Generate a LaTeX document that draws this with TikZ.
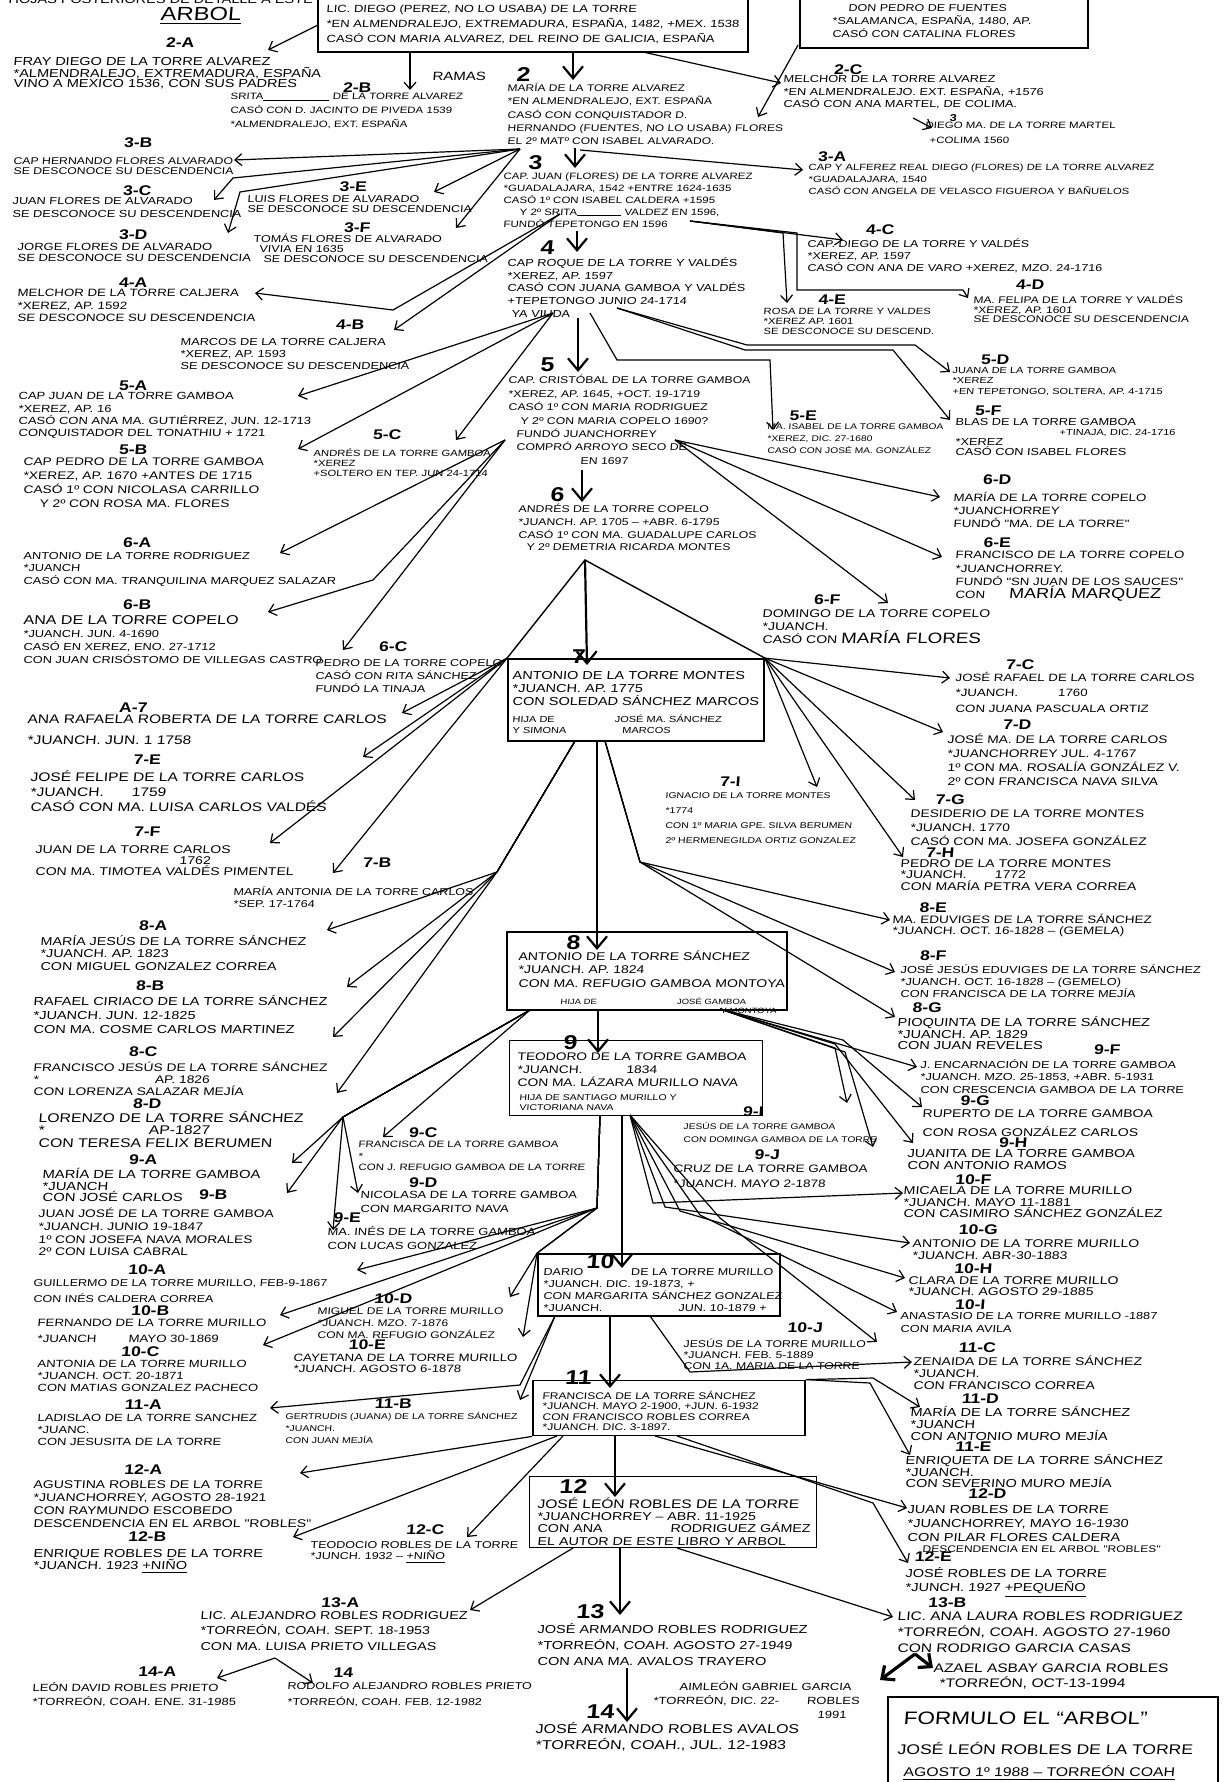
\documentclass[tikz,border=0pt]{standalone}
\usepackage{fontspec}
\usetikzlibrary{arrows.meta}
\newfontfamily\hand[FakeStretch=1.25,FakeSlant=0.08]{Liberation Sans}
\newcommand{\hf}[2]{\hand\fontsize{#1}{#2}\selectfont}
\newcommand{\blank}[1]{\rule[-0.4pt]{#1}{0.5pt}}

\begin{document}
\begin{tikzpicture}[x=0.5pt,y=-0.5pt,
  person/.style={anchor=north west,inner sep=0pt,align=left,font=\hf{5.2}{6.2}},
  gen/.style={inner sep=0pt,font=\hand\bfseries\fontsize{7}{7}\selectfont},
  genmain/.style={inner sep=0pt,font=\hand\bfseries\fontsize{10}{10}\selectfont},
  famsbox/.style={draw,line width=0.9pt,inner sep=0pt},
  link/.style={line width=0.6pt,-{Straight Barb[length=3.5pt,width=6pt]}},
  tent/.style={line width=0.7pt},
  down/.style={line width=1.1pt,-{Straight Barb[length=6pt,width=10pt,line width=1.1pt]}},
  fat/.style={line width=1.6pt,-{Straight Barb[length=5pt,width=9pt,line width=1.6pt]}}]
\useasboundingbox (0,0) rectangle (1223,1782);
\fill[white] (0,0) rectangle (1223,1782);

% heading
\node[person,font=\hf{5.8}{6}] (title) at (8,-5) {HOJAS POSTERIORES DE DETALLE A ESTE};
\node[person,font=\hf{9.5}{10}] (arbol) at (160,7) {\underline{ARBOL}};
\node[person,font=\hf{6}{6}] (ramas) at (432,72) {RAMAS};

% the two first families
\node[famsbox,minimum width=215pt,minimum height=27pt] (boxD) at (533,25) {};
\node[person,font=\hf{5.2}{7.4}] (nD) at (326,5) {LIC. DIEGO (PEREZ, NO LO USABA) DE LA TORRE\\{*}EN ALMENDRALEJO, EXTREMADURA, ESPAÑA, 1482, +MEX. 1538\\CASÓ CON MARIA ALVAREZ, DEL REINO DE GALICIA, ESPAÑA};
\node[famsbox,minimum width=144pt,minimum height=25pt] (boxP) at (944,23) {};
\node[person,font=\hf{5}{6.5}] (nP) at (832,4) {\hspace*{8pt}DON PEDRO DE FUENTES\\{*}SALAMANCA, ESPAÑA, 1480, AP.\\CASÓ CON CATALINA FLORES};

% generation numbers
\foreach \n/\t/\x/\y in {g2/2/523/75, g3/3/535/163, g4/4/547/248, g5/5/547/365, g6/6/557/495,
  g7/7/578/657, g8/8/573/943, g9/9/570/1043, g10/10/600/1262, g11/11/578/1378, g12/12/573/1486,
  g13/13/590/1612, g14/14/600/1712}
  \node[genmain] (\n) at (\x,\y) {\t};
\foreach \n/\t/\x/\y in {g2A/2-A/180/43, g2B/2-B/357/88, g2C/2-C/848/70, g3A/3-A/832/157,
  g3B/3-B/138/143, g3C/3-C/137/191, g3D/3-D/133/235, g3E/3-E/353/187, g3F/3-F/357/228,
  g4A/4-A/133/283, g4B/4-B/350/325, g4C/4-C/880/230, g4D/4-D/1030/285, g4E/4-E/832/300,
  g5A/5-A/133/386, g5B/5-B/133/450, g5C/5-C/387/435, g5D/5-D/995/360, g5E/5-E/803/416,
  g5F/5-F/988/411, g6A/6-A/137/543, g6B/6-B/137/605, g6C/6-C/393/647, g6D/6-D/997/480,
  g6E/6-E/997/543, g6F/6-F/827/600, g7A/A-7/133/708, g7B/7-B/377/863, g7C/7-C/1020/665,
  g7D/7-D/1017/725, g7E/7-E/147/760, g7F/7-F/147/832, g7G/7-G/950/800, g7H/7-H/940/853,
  g7I/7-I/730/782, g8A/8-A/153/926, g8B/8-B/150/986, g8C/8-C/143/1052, g8D/8-D/147/1104,
  g8E/8-E/933/908, g8F/8-F/933/956, g8G/8-G/927/1008, g9A/9-A/143/1160, g9B/9-B/213/1195,
  g9C/9-C/423/1133, g9D/9-D/423/1183, g9E/9-E/347/1218, g9F/9-F/1107/1050, g9G/9-G/975/1101,
  g9H/9-H/1013/1143, g9I/9-I/753/1112, g9J/9-J/767/1155, g10A/10-A/147/1270, g10B/10-B/150/1311,
  g10C/10-C/140/1352, g10D/10-D/393/1299, g10E/10-E/367/1345, g10F/10-F/973/1180,
  g10G/10-G/978/1230, g10H/10-H/973/1269, g10I/10-I/970/1305, g10J/10-J/805/1328,
  g11A/11-A/143/1405, g11B/11-B/393/1404, g11C/11-C/977/1348, g11D/11-D/980/1399,
  g11E/11-E/973/1447, g12A/12-A/143/1470, g12B/12-B/147/1537, g12C/12-C/425/1530,
  g12D/12-D/987/1494, g12E/12-E/933/1557, g13A/13-A/340/1603, g13B/13-B/947/1603,
  g14A/14-A/157/1672, g14B/14/343/1673}
  \node[gen] (\n) at (\x,\y) {\t};
\node[gen,font=\hand\bfseries\fontsize{5}{5}\selectfont] (g3s) at (953,118) {3};

% generation 2 and 3
\node[person,font=\hf{5.8}{4.8}] (n2A) at (13,57) {FRAY DIEGO DE LA TORRE ALVAREZ\\{*}ALMENDRALEJO, EXTREMADURA, ESPAÑA\\VINO A MEXICO 1536, CON SUS PADRES};
\node[person,font=\hf{4.6}{6.8}] (n2B) at (230,93) {SRITA\blank{33pt} DE LA TORRE ALVAREZ\\CASÓ CON D. JACINTO DE PIVEDA 1539\\{*}ALMENDRALEJO, EXT. ESPAÑA};
\node[person,font=\hf{4.8}{6.6}] (n2) at (507,83) {MARÍA DE LA TORRE ALVAREZ\\{*}EN ALMENDRALEJO, EXT. ESPAÑA\\CASÓ CON CONQUISTADOR D.\\HERNANDO (FUENTES, NO LO USABA) FLORES\\EL 2º MATº CON ISABEL ALVARADO.};
\node[person,font=\hf{5.1}{6.3}] (n2C) at (783,75) {MELCHOR DE LA TORRE ALVAREZ\\{*}EN ALMENDRALEJO. EXT. ESPAÑA, +1576\\CASÓ CON ANA MARTEL, DE COLIMA.};
\node[person,font=\hf{4.6}{7.4}] (nDM) at (925,122) {DIEGO MA. DE LA TORRE MARTEL\\\hspace*{2pt}+COLIMA 1560};
\node[person,font=\hf{4.5}{5.8}] (n3A) at (808,164) {CAP Y ALFEREZ REAL DIEGO (FLORES) DE LA TORRE ALVAREZ\\{*}GUADALAJARA, 1540\\CASÓ CON ANGELA DE VELASCO FIGUEROA Y BAÑUELOS};
\node[person,font=\hf{4.9}{5.2}] (n3B) at (13,157) {CAP HERNANDO FLORES ALVARADO\\SE DESCONOCE SU DESCENDENCIA};
\node[person,font=\hf{5.1}{6.4}] (n3C) at (12,197) {JUAN FLORES DE ALVARADO\\SE DESCONOCE SU DESCENDENCIA};
\node[person,font=\hf{5.2}{5.4}] (n3D) at (17,243) {JORGE FLORES DE ALVARADO\\SE DESCONOCE SU DESCENDENCIA};
\node[person,font=\hf{5}{5.2}] (n3E) at (247,195) {LUIS FLORES DE ALVARADO\\SE DESCONOCE SU DESCENDENCIA};
\node[person,font=\hf{5}{5.2}] (n3F) at (253,233) {TOMÁS FLORES DE ALVARADO\\\hspace*{3pt}VIVIA EN 1635\\\hspace*{5pt}SE DESCONOCE SU DESCENDENCIA};
\node[person,font=\hf{4.6}{6}] (n3) at (503,172) {CAP. JUAN (FLORES) DE LA TORRE ALVAREZ\\{*}GUADALAJARA, 1542 +ENTRE 1624-1635\\CASÓ 1º CON ISABEL CALDERA +1595\\\hspace*{8pt}Y 2º SRITA\blank{22pt} VALDEZ EN 1596,\\FUNDÓ TEPETONGO EN 1596};

% generation 4
\node[person,font=\hf{5.3}{6.2}] (n4A) at (17,289) {MELCHOR DE LA TORRE CALJERA\\{*}XEREZ, AP. 1592\\SE DESCONOCE SU DESCENDENCIA};
\node[person,font=\hf{5.1}{6}] (n4B) at (180,338) {MARCOS DE LA TORRE CALJERA\\{*}XEREZ, AP. 1593\\SE DESCONOCE SU DESCENDENCIA};
\node[person,font=\hf{5}{6.2}] (n4C) at (807,238) {CAP. DIEGO DE LA TORRE Y VALDÉS\\{*}XEREZ, AP. 1597\\CASÓ CON ANA DE VARO +XEREZ, MZO. 24-1716};
\node[person,font=\hf{4.8}{4.8}] (n4D) at (973,295) {MA. FELIPA DE LA TORRE Y VALDÉS\\{*}XEREZ, AP. 1601\\SE DESCONOCE SU DESCENDENCIA};
\node[person,font=\hf{4.5}{5}] (n4E) at (763,308) {ROSA DE LA TORRE Y VALDES\\{*}XEREZ AP. 1601\\SE DESCONOCE SU DESCEND.};
\node[person,font=\hf{5.1}{6.4}] (n4) at (507,257) {CAP ROQUE DE LA TORRE Y VALDÉS\\{*}XEREZ, AP. 1597\\CASÓ CON JUANA GAMBOA Y VALDÉS\\+TEPETONGO JUNIO 24-1714\\\hspace*{2pt}YA VIUDA};

% generation 5
\node[person,font=\hf{5.2}{6.2}] (n5A) at (18,392) {CAP JUAN DE LA TORRE GAMBOA\\{*}XEREZ, AP. 16\\CASÓ CON ANA MA. GUTIÉRREZ, JUN. 12-1713\\CONQUISTADOR DEL TONATHIU + 1721};
\node[person,font=\hf{5.5}{7}] (n5B) at (23,457) {CAP PEDRO DE LA TORRE GAMBOA\\{*}XEREZ, AP. 1670 +ANTES DE 1715\\CASÓ 1º CON NICOLASA CARRILLO\\\hspace*{8pt}Y 2º CON ROSA MA. FLORES};
\node[person,font=\hf{4.5}{5}] (n5C) at (313,448) {ANDRÉS DE LA TORRE GAMBOA\\{*}XEREZ\\+SOLTERO EN TEP. JUN 24-1714};
\node[person,font=\hf{4.4}{5.2}] (n5D) at (952,367) {JUANA DE LA TORRE GAMBOA\\{*}XEREZ\\+EN TEPETONGO, SOLTERA, AP. 4-1715};
\node[person,font=\hf{4.1}{6}] (n5E) at (767,423) {MA. ISABEL DE LA TORRE GAMBOA\\{*}XEREZ, DIC. 27-1680\\CASÓ CON JOSÉ MA. GONZÁLEZ};
\node[person,font=\hf{5.1}{5}] (n5F) at (955,418) {BLAS DE LA TORRE GAMBOA\\\hspace*{52pt}{\fontsize{4.4}{5}\selectfont +TINAJA, DIC. 24-1716}\\{*}XEREZ\\CASÓ CON ISABEL FLORES};
\node[person,font=\hf{4.9}{6.7}] (n5) at (508,375) {CAP. CRISTÓBAL DE LA TORRE GAMBOA\\{*}XEREZ, AP. 1645, +OCT. 19-1719\\CASÓ 1º CON MARIA RODRIGUEZ\\\hspace*{6pt}Y 2º CON MARIA COPELO 1690?\\\hspace*{4pt}FUNDÓ JUANCHORREY\\\hspace*{4pt}COMPRÓ ARROYO SECO DE\\\hspace*{36pt}EN 1697};

% generation 6
\node[person,font=\hf{4.9}{6.3}] (n6) at (518,504) {ANDRÉS DE LA TORRE COPELO\\{*}JUANCH. AP. 1705 – +ABR. 6-1795\\CASÓ 1º CON MA. GUADALUPE CARLOS\\\hspace*{4pt}Y 2º DEMETRIA RICARDA MONTES};
\node[person,font=\hf{5.1}{6.2}] (n6A) at (23,552) {ANTONIO DE LA TORRE RODRIGUEZ\\{*}JUANCH\\CASÓ CON MA. TRANQUILINA MARQUEZ SALAZAR};
\node[person,font=\hf{5.1}{6.6}] (n6B) at (23,615) {{\fontsize{6.4}{6.6}\selectfont ANA DE LA TORRE COPELO}\\{*}JUANCH. JUN. 4-1690\\CASÓ EN XEREZ, ENO. 27-1712\\CON JUAN CRISÓSTOMO DE VILLEGAS CASTRO};
\node[person,font=\hf{5}{6.6}] (n6C) at (315,659) {PEDRO DE LA TORRE COPELO\\CASÓ CON RITA SÁNCHEZ\\FUNDÓ LA TINAJA};
\node[person,font=\hf{5.3}{6.4}] (n6D) at (953,492) {MARÍA DE LA TORRE COPELO\\{*}JUANCHORREY\\FUNDÓ "MA. DE LA TORRE"};
\node[person,font=\hf{5.3}{6.6}] (n6E) at (955,551) {FRANCISCO DE LA TORRE COPELO\\{*}JUANCHORREY.\\FUNDÓ "SN JUAN DE LOS SAUCES"\\CON\hspace*{12pt}{\fontsize{7.2}{6.6}\selectfont MARÍA MARQUEZ}};
\node[person,font=\hf{5.6}{6.6}] (n6F) at (762,609) {DOMINGO DE LA TORRE COPELO\\{*}JUANCH.\\CASÓ CON {\fontsize{7.5}{6.6}\selectfont MARÍA FLORES}};

% generation 7
\node[famsbox,minimum width=128pt,minimum height=41pt] (box7) at (636,700) {};
\node[person,font=\hf{5.8}{6.4}] (n7) at (512,671) {ANTONIO DE LA TORRE MONTES\\{*}JUANCH. AP. 1775\\CON SOLEDAD SÁNCHEZ MARCOS};
\node[person,font=\hf{4.4}{5.6}] (n7b) at (512,714) {HIJA DE\hspace*{30pt}JOSÉ MA. SÁNCHEZ\\Y SIMONA\hspace*{28pt}MARCOS};
\node[person,font=\hf{6.2}{10.5}] (n7A) at (27,714) {ANA RAFAELA ROBERTA DE LA TORRE CARLOS\\{*}JUANCH. JUN. 1 1758};
\node[person,font=\hf{6.2}{7.5}] (n7E) at (30,770) {JOSÉ FELIPE DE LA TORRE CARLOS\\{*}JUANCH.\hspace*{14pt}1759\\CASÓ CON MA. LUISA CARLOS VALDÉS};
\node[person,font=\hf{5.6}{5.6}] (n7F) at (35,845) {JUAN DE LA TORRE CARLOS\\\hspace*{72pt}1762\\CON MA. TIMOTEA VALDÉS PIMENTEL};
\node[person,font=\hf{5}{6.4}] (n7B) at (233,886) {MARÍA ANTONIA DE LA TORRE CARLOS\\{*}SEP. 17-1764};
\node[person,font=\hf{5.3}{7.6}] (n7C) at (955,672) {JOSÉ RAFAEL DE LA TORRE CARLOS\\{*}JUANCH.\hspace*{20pt}1760\\CON JUANA PASCUALA ORTIZ};
\node[person,font=\hf{5.5}{7}] (n7D) at (947,734) {JOSÉ MA. DE LA TORRE CARLOS\\{*}JUANCHORREY JUL. 4-1767\\1º CON MA. ROSALÍA GONZÁLEZ V.\\2º CON FRANCISCA NAVA SILVA};
\node[person,font=\hf{5.5}{7}] (n7G) at (910,809) {DESIDERIO DE LA TORRE MONTES\\{*}JUANCH. 1770\\CASÓ CON MA. JOSEFA GONZÁLEZ};
\node[person,font=\hf{5.6}{5.8}] (n7H) at (900,859) {PEDRO DE LA TORRE MONTES\\{*}JUANCH.\hspace*{14pt}1772\\CON MARÍA PETRA VERA CORREA};
\node[person,font=\hf{4.2}{7.6}] (n7I) at (665,792) {IGNACIO DE LA TORRE MONTES\\{*}1774\\CON 1º MARIA GPE. SILVA BERUMEN\\2º HERMENEGILDA ORTIZ GONZALEZ};

% generation 8
\node[famsbox,minimum width=140pt,minimum height=39pt] (box8) at (647,971) {};
\node[person,font=\hf{5.6}{6.8}] (n8) at (518,950) {ANTONIO DE LA TORRE SÁNCHEZ\\{*}JUANCH. AP. 1824\\CON MA. REFUGIO GAMBOA MONTOYA};
\node[person,font=\hf{3.8}{4.6}] (n8b) at (560,997) {HIJA DE\hspace*{40pt}JOSÉ GAMBOA\\\hspace*{80pt}Y MONTOYA};
\node[person,font=\hf{5.7}{6.3}] (n8A) at (40,935) {MARÍA JESÚS DE LA TORRE SÁNCHEZ\\{*}JUANCH. AP. 1823\\CON MIGUEL GONZALEZ CORREA};
\node[person,font=\hf{5.8}{7}] (n8B) at (33,995) {RAFAEL CIRIACO DE LA TORRE SÁNCHEZ\\{*}JUANCH. JUN. 12-1825\\CON MA. COSME CARLOS MARTINEZ};
\node[person,font=\hf{5.5}{6}] (n8C) at (33,1062) {FRANCISCO JESÚS DE LA TORRE SÁNCHEZ\\{*}\hspace*{58pt}AP. 1826\\CON LORENZA SALAZAR MEJÍA};
\node[person,font=\hf{6.3}{6.2}] (n8D) at (38,1111) {LORENZO DE LA TORRE SÁNCHEZ\\{*}\hspace*{52pt}AP-1827\\CON TERESA FELIX BERUMEN};
\node[person,font=\hf{5.4}{5.2}] (n8E) at (892,914) {MA. EDUVIGES DE LA TORRE SÁNCHEZ\\{*}JUANCH. OCT. 16-1828 – (GEMELA)};
\node[person,font=\hf{5.1}{6}] (n8F) at (900,964) {JOSÉ JESÚS EDUVIGES DE LA TORRE SÁNCHEZ\\{*}JUANCH. OCT. 16-1828 – (GEMELO)\\CON FRANCISCA DE LA TORRE MEJÍA};
\node[person,font=\hf{5.8}{5.8}] (n8G) at (897,1016) {PIOQUINTA DE LA TORRE SÁNCHEZ\\{*}JUANCH. AP. 1829\\CON JUAN REVELES};

% generation 9
\node[famsbox,minimum width=126.5pt,minimum height=37.5pt] (box9) at (636,1078) {};
\node[person,font=\hf{5.5}{6.5}] (n9) at (517,1052) {TEODORO DE LA TORRE GAMBOA\\{*}JUANCH.\hspace*{22pt}1834\\CON MA. LÁZARA MURILLO NAVA};
\node[person,font=\hf{4.2}{5}] (n9b) at (519,1094) {HIJA DE SANTIAGO MURILLO Y\\VICTORIANA NAVA};
\node[person,font=\hf{5.9}{5.7}] (n9A) at (42,1168) {MARÍA DE LA TORRE GAMBOA\\{*}JUANCH\\CON JOSÉ CARLOS};
\node[person,font=\hf{5.5}{6.3}] (n9B) at (38,1208) {JUAN JOSÉ DE LA TORRE GAMBOA\\{*}JUANCH. JUNIO 19-1847\\1º CON JOSEFA NAVA MORALES\\2º CON LUISA CABRAL};
\node[person,font=\hf{4.6}{5.6}] (n9C) at (358,1141) {FRANCISCA DE LA TORRE GAMBOA\\{*}\\CON J. REFUGIO GAMBOA DE LA TORRE};
\node[person,font=\hf{5.2}{6.8}] (n9D) at (360,1191) {NICOLASA DE LA TORRE GAMBOA\\CON MARGARITO NAVA};
\node[person,font=\hf{5.2}{7}] (n9E) at (327,1226) {MA. INÉS DE LA TORRE GAMBOA\\CON LUCAS GONZALEZ};
\node[person,font=\hf{5.1}{6.2}] (n9F) at (920,1059) {J. ENCARNACIÓN DE LA TORRE GAMBOA\\{*}JUANCH. MZO. 25-1853, +ABR. 5-1931\\CON CRESCENCIA GAMBOA DE LA TORRE};
\node[person,font=\hf{5.6}{9.5}] (n9G) at (922,1109) {RUPERTO DE LA TORRE GAMBOA\\CON ROSA GONZÁLEZ CARLOS};
\node[person,font=\hf{5.8}{6}] (n9H) at (907,1149) {JUANITA DE LA TORRE GAMBOA\\CON ANTONIO RAMOS};
\node[person,font=\hf{4.1}{6.5}] (n9I) at (683,1122) {JESÚS DE LA TORRE GAMBOA\\CON DOMINGA GAMBOA DE LA TORRE};
\node[person,font=\hf{5.4}{7.2}] (n9J) at (673,1165) {CRUZ DE LA TORRE GAMBOA\\{*}JUANCH. MAYO 2-1878};

% generation 10
\node[famsbox,minimum width=121pt,minimum height=31pt] (box10) at (659,1285) {};
\node[person,font=\hf{5}{6.1}] (n10) at (543,1268) {DARIO\hspace*{24pt}DE LA TORRE MURILLO\\{*}JUANCH. DIC. 19-1873, +\\CON MARGARITA SÁNCHEZ GONZALEZ\\{*}JUANCH.\hspace*{38pt}JUN. 10-1879 +};
\node[person,font=\hf{5}{8}] (n10A) at (33,1279) {GUILLERMO DE LA TORRE MURILLO, FEB-9-1867\\CON INÉS CALDERA CORREA};
\node[person,font=\hf{5.3}{8}] (n10B) at (37,1319) {FERNANDO DE LA TORRE MURILLO\\{*}JUANCH\hspace*{16pt}MAYO 30-1869};
\node[person,font=\hf{5.2}{6}] (n10C) at (37,1360) {ANTONIA DE LA TORRE MURILLO\\{*}JUANCH. OCT. 20-1871\\CON MATIAS GONZALEZ PACHECO};
\node[person,font=\hf{4.8}{6}] (n10D) at (317,1307) {MIGUEL DE LA TORRE MURILLO\\{*}JUANCH. MZO. 7-1876\\CON MA. REFUGIO GONZÁLEZ};
\node[person,font=\hf{5.3}{5.2}] (n10E) at (293,1354) {CAYETANA DE LA TORRE MURILLO\\{*}JUANCH. AGOSTO 6-1878};
\node[person,font=\hf{5.7}{5.9}] (n10F) at (903,1186) {MICAELA DE LA TORRE MURILLO\\{*}JUANCH. MAYO 11-1881\\CON CASIMIRO SÁNCHEZ GONZÁLEZ};
\node[person,font=\hf{5.6}{6}] (n10G) at (912,1239) {ANTONIO DE LA TORRE MURILLO\\{*}JUANCH. ABR-30-1883};
\node[person,font=\hf{5.6}{5.6}] (n10H) at (908,1276) {CLARA DE LA TORRE MURILLO\\{*}JUANCH. AGOSTO 29-1885};
\node[person,font=\hf{5.1}{6.3}] (n10I) at (900,1312) {ANASTASIO DE LA TORRE MURILLO -1887\\CON MARIA AVILA};
\node[person,font=\hf{4.9}{5.5}] (n10J) at (683,1339) {JESÚS DE LA TORRE MURILLO\\{*}JUANCH. FEB. 5-1889\\CON 1A. MARIA DE LA TORRE};

% generation 11
\node[famsbox,minimum width=136pt,minimum height=27.5pt] (box11) at (669,1408) {};
\node[person,font=\hf{4.8}{5.1}] (n11) at (542,1391) {FRANCISCA DE LA TORRE SÁNCHEZ\\{*}JUANCH. MAYO 2-1900, +JUN. 6-1932\\CON FRANCISCO ROBLES CORREA\\{*}JUANCH. DIC. 3-1897.};
\node[person,font=\hf{5.2}{6}] (n11A) at (37,1414) {LADISLAO DE LA TORRE SANCHEZ\\{*}JUANC.\\CON JESUSITA DE LA TORRE};
\node[person,font=\hf{4.2}{6}] (n11B) at (285,1412) {GERTRUDIS (JUANA) DE LA TORRE SÁNCHEZ\\{*}JUANCH.\\CON JUAN MEJÍA};
\node[person,font=\hf{5.6}{6}] (n11C) at (913,1355) {ZENAIDA DE LA TORRE SÁNCHEZ\\{*}JUANCH.\\CON FRANCISCO CORREA};
\node[person,font=\hf{5.8}{6}] (n11D) at (910,1406) {MARÍA DE LA TORRE SÁNCHEZ\\{*}JUANCH\\CON ANTONIO MURO MEJÍA};
\node[person,font=\hf{5.8}{5.8}] (n11E) at (905,1454) {ENRIQUETA DE LA TORRE SÁNCHEZ\\{*}JUANCH.\\CON SEVERINO MURO MEJÍA};

% generation 12
\node[famsbox,minimum width=143.5pt,minimum height=35.5pt] (box12) at (673,1512) {};
\node[person,font=\hf{5.7}{6.2}] (n12) at (537,1497) {{\fontsize{6.2}{6.2}\selectfont JOSÉ LEÓN ROBLES DE LA TORRE}\\{*}JUANCHORREY – ABR. 11-1925\\CON ANA\hspace*{34pt}RODRIGUEZ GÁMEZ\\EL AUTOR DE ESTE LIBRO Y ARBOL};
\node[person,font=\hf{5.6}{6.5}] (n12A) at (33,1480) {AGUSTINA ROBLES DE LA TORRE\\{*}JUANCHORREY, AGOSTO 28-1921\\CON RAYMUNDO ESCOBEDO\\DESCENDENCIA EN EL ARBOL "ROBLES"};
\node[person,font=\hf{5.8}{6.2}] (n12B) at (33,1549) {ENRIQUE ROBLES DE LA TORRE\\{*}JUANCH. 1923 \underline{+NIÑO}};
\node[person,font=\hf{5}{5.6}] (n12C) at (310,1541) {TEODOCIO ROBLES DE LA TORRE\\{*}JUNCH. 1932 – \underline{+NIÑO}};
\node[person,font=\hf{5.8}{7}] (n12D) at (907,1505) {JUAN ROBLES DE LA TORRE\\{*}JUANCHORREY, MAYO 16-1930\\CON PILAR FLORES CALDERA};
\node[person,font=\hf{4.8}{5}] (n12Db) at (922,1545) {DESCENDENCIA EN EL ARBOL "ROBLES"};
\node[person,font=\hf{5.8}{7}] (n12E) at (905,1567) {JOSÉ ROBLES DE LA TORRE\\{*}JUNCH. 1927 \underline{+PEQUEÑO}};

% generation 13 and 14
\node[person,font=\hf{5.8}{8}] (n13) at (537,1623) {JOSÉ ARMANDO ROBLES RODRIGUEZ\\{*}TORREÓN, COAH. AGOSTO 27-1949\\CON ANA MA. AVALOS TRAYERO};
\node[person,font=\hf{5.7}{7.8}] (n13A) at (200,1611) {LIC. ALEJANDRO ROBLES RODRIGUEZ\\{*}TORREÓN, COAH. SEPT. 18-1953\\CON MA. LUISA PRIETO VILLEGAS};
\node[person,font=\hf{6.2}{8}] (n13B) at (897,1611) {LIC. ANA LAURA ROBLES RODRIGUEZ\\{*}TORREÓN, COAH. AGOSTO 27-1960\\CON RODRIGO GARCIA CASAS};
\node[person,font=\hf{6.4}{7.8}] (n14) at (535,1722) {JOSÉ ARMANDO ROBLES AVALOS\\{*}TORREÓN, COAH., JUL. 12-1983};
\node[person,font=\hf{5.2}{7}] (n14A) at (32,1682) {LEÓN DAVID ROBLES PRIETO\\{*}TORREÓN, COAH. ENE. 31-1985};
\node[person,font=\hf{5}{8}] (n14B) at (287,1682) {RODOLFO ALEJANDRO ROBLES PRIETO\\{*}TORREÓN, COAH. FEB. 12-1982};
\node[person,font=\hf{5.2}{7}] (nAim) at (653,1681) {\hspace*{13pt}AIMLEÓN GABRIEL GARCIA\\{*}TORREÓN, DIC. 22-\hspace*{14pt}ROBLES\\\hspace*{82pt}1991};
\node[person,font=\hf{6.2}{7.5}] (nAz) at (933,1663) {AZAEL ASBAY GARCIA ROBLES\\\hspace*{3pt}{*}TORREÓN, OCT-13-1994};

% signature
\node[famsbox,minimum width=165pt,minimum height=52pt] (boxF) at (1053,1749) {};
\node[person,font=\hf{9}{12}] (nF) at (903,1712) {FORMULO EL “ARBOL”};
\node[person,font=\hf{7}{7}] (nF2) at (897,1742) {JOSÉ LEÓN ROBLES DE LA TORRE};
\node[person,font=\hf{6.3}{7}] (nF3) at (903,1765) {\underline{AGOSTO 1º 1988 – TORREÓN COAH}};

% arrow ends, starts and bends
\foreach \n/\x/\y in {a2A/268/50, a2B/410/90, a2/573/80, a2C/781/83, aPH/758/117, aDM/932/128,
  a3A/803/170, a3B/234/160, a3C/214/200, a3D/228/233, a3E/434/192, a3F/456/228, a3/575/168,
  a4A/255/293, a4B/394/330, a4C/843/240, a4D/968/298, a4E/787/303, a4/577/252,
  a5A/298/396, a5B/298/449, a5C/456/440, a5D/950/372, a5E/773/430, a5F/950/420, a5/578/372,
  a6A/280/553, a6B/268/612, a6C/343/650, a6D/940/497, a6E/942/557, a6F/888/603, a6/582/502,
  a7/587/665, a7A/402/713, a7B/333/873, a7C/950/678, a7D/943/732, a7E/363/757, a7F/270/843,
  a7G/915/800, a7H/903/857, a7I/817/787,
  a8/597/950, a8A/327/930, a8B/347/987, a8C/333/1037, a8D/337/1093, a8E/890/920, a8F/895/972, a8G/895/1017,
  a9/598/1053, a9A/292/1163, a9B/287/1193, a9C/383/1137, a9D/358/1193, a9E/333/1230,
  a9F/917/1067, a9G/922/1107, a9H/913/1143, a9I/847/1103, a9J/873/1147,
  a10/622/1268, a10A/357/1270, a10B/280/1315, a10C/263/1345, a10D/510/1297, a10E/523/1337,
  a10F/903/1193, a10G/910/1243, a10H/905/1278, a10I/897/1312, a10J/877/1342,
  a11/610/1388, a11A/270/1408, a11B/520/1400, a11C/912/1362, a11D/920/1407, a11E/910/1455,
  a12/615/1497, a12A/300/1473, a12B/293/1537, a12C/467/1537, a12D/907/1508, a12E/908/1563,
  a13/620/1615, a13A/470/1610, a13B/893/1617,
  a14/627/1722, a14A/217/1678, a14B/313/1683, aAim/880/1680, aAz/933/1668,
  oD1/318/25, oD2/410/52, oD3/573/52, oD4/643/52, oP/798/45, o2C/913/118,
  o2/520/149, o2b/575/148, o2r/580/150, k3C/233/178, k3D/240/192,
  o3L/560/214, o3R/690/221, o3/577/231, k4A/393/310, k4E/783/233, k4D1/797/233, k4D2/797/290, k4D3/963/290,
  o4L/553/313, o4R/617/308, o4M/590/313, o4/578/318, k5D1/747/345, k5D2/915/345,
  k5F1/745/350, k5F2/893/350, k5E1/617/360, k5E2/770/360,
  o5L/505/440, o5R/675/440, o5/582/470, k6B/373/580, o6/585/560,
  b7L/575/741, b7R/605/741, k8L/497/872, k8R/640/862,
  b8L/530/1010, b8R/720/1009, k9L/343/1117, k9G/843/1040, k9H/835/1044, k9I/835/1048, k9J/845/1052,
  b9L/600/1115, b9R/630/1115, k10L/597/1208, k10F/653/1203, k10G/665/1207, k10H/680/1211,
  k10I/700/1215, k10J/720/1218,
  b10L/555/1316, b10R/650/1316, k11A/520/1385, k11C/690/1372, k11D/873/1378, k11E/870/1383,
  b11a/557/1436, b11b/563/1436, b11R/655/1436, k12E/873/1503, b11R2/677/1436,
  b12L/573/1548, b12R/677/1548, o13/627/1668, o13A/275/1658, o13B/915/1654}
  \coordinate (\n) at (\x,\y);

% straight links
\foreach \s/\t in {oD1/a2A, oD2/a2B, oD4/a2C, oP/aPH, o2C/aDM, o2/a3B, o2/a3E, o2/a3F, o2r/a3A,
  o3L/a4B, o3R/a4C, o4L/a5A, o4L/a5B, o4L/a5C, o5L/a6A, o5L/a6C, o5R/a6D, o5R/a6E, o5R/a6F,
  b8L/a9C, b8R/a9F, b10L/a11B, b11a/a12B, b11b/a12C, b11R/a12D, b12L/a13A, b12R/a13B,
  o13A/a14A, o13A/a14B, box11.south west/a12A}
  \draw[link] (\s) -- (\t);
\foreach \t in {a7A,a7E,a7F,a7B} \draw[link] (box7.north west) -- (\t);
\foreach \t in {a7C,a7D,a7G,a7H,a7I} \draw[link] (box7.north east) -- (\t);
\foreach \t in {a8A,a8B,a8C,a8D} \draw[link] (b7L) -- (k8L) -- (\t);
\foreach \t in {a8E,a8F,a8G} \draw[link] (b7R) -- (k8R) -- (\t);
\foreach \t in {a9A,a9B,a9D,a9E} \draw[link] (b8L) -- (k9L) -- (\t);
\foreach \t in {a10A,a10B,a10C} \draw[link] (b9L) -- (k10L) -- (\t);
\foreach \t in {a10D,a10E} \draw[link] (b9L) -- (k10L) -- (box10.north west) -- (\t);
\foreach \k/\t in {k10F/a10F, k10G/a10G, k10H/a10H, k10I/a10I, k10J/a10J} \draw[link] (b9R) -- (\k) -- (\t);
\foreach \k/\t in {k9G/a9G, k9H/a9H, k9I/a9I, k9J/a9J} \draw[link] (b8R) -- (\k) -- (\t);

% bent links
\draw[link] (o2) -- (k3C) -- (a3C);
\draw[link] (o2) -- (k3D) -- (a3D);
\draw[link] (o3L) -- (k4A) -- (a4A);
\draw[link] (o3R) -- (k4E) -- (a4E);
\draw[link] (o3R) -- (k4D1) -- (k4D2) -- (k4D3) -- (a4D);
\draw[link] (o4R) -- (k5D1) -- (k5D2) -- (a5D);
\draw[link] (o4R) -- (k5F1) -- (k5F2) -- (a5F);
\draw[link] (o4M) -- (k5E1) -- (k5E2) -- (a5E);
\draw[link] (o5L) -- (k6B) -- (a6B);
\draw[link] (b10L) -- (k11A) -- (a11A);
\draw[link] (b10R) -- (k11C) -- (a11C);
\draw[link] (box11.north east) -- (k11D) -- (a11D);
\draw[link] (box11.north east) -- (k11E) -- (a11E);
\draw[link] (b11R2) -- (k12E) -- (a12E);
\draw[tent] (box7.north west) -- (o6) -- (box7.north east);
\draw[fat] (o13B) -- (aAim);
\draw[fat] (o13B) -- (aAz);

% main line of descent
\draw[down] (oD3) -- (a2);
\draw[down] (o2b) -- (a3);
\draw[down] (o3) -- (a4);
\draw[down] (o4) -- (a5);
\draw[down] (o5) -- (a6);
\draw[down] (o6) -- (a7);
\draw[down] (a8 |- box7.south) -- (a8);
\draw[down] (a9 |- box8.south) -- (a9);
\draw[down] (a10 |- box9.south) -- (a10);
\draw[down] (a11 |- box10.south) -- (a11);
\draw[down] (a12 |- box11.south) -- (a12);
\draw[down] (a13 |- box12.south) -- (a13);
\draw[down] (o13) -- (a14);
\end{tikzpicture}
\end{document}
